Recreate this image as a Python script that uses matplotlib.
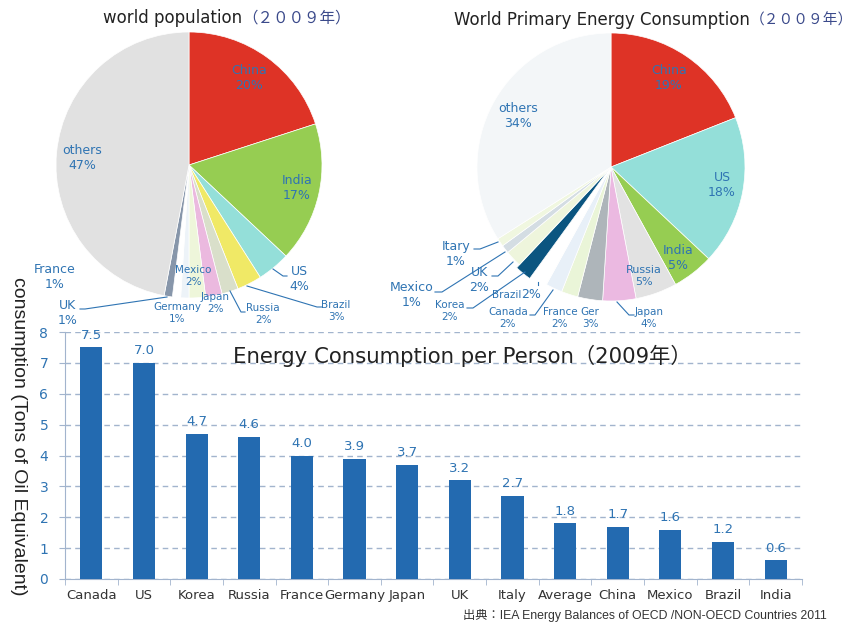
import matplotlib.pyplot as plt
import numpy as np

W, H = 859, 624

# world population 2009 (%)
pop_labels = ["China", "India", "US", "Brazil", "Russia", "Japan", "Mexico",
              "Germany", "France", "UK", "others"]
pop_share = [20, 17, 4, 3, 2, 2, 2, 1, 1, 1, 47]

# world primary energy consumption 2009 (%)
energy_labels = ["China", "US", "India", "Russia", "Japan", "Ger", "France",
                 "Canada", "Brazil", "Korea", "UK", "Mexico", "Itary", "others"]
energy_share = [19, 18, 5, 5, 4, 3, 2, 2, 2, 2, 2, 1, 1, 34]

# energy consumption per person 2009 (toe)
countries = ["Canada", "US", "Korea", "Russia", "France", "Germany", "Japan",
             "UK", "Italy", "Average", "China", "Mexico", "Brazil", "India"]
per_person = [7.5, 7.0, 4.7, 4.6, 4.0, 3.9, 3.7, 3.2, 2.7, 1.8, 1.7, 1.6, 1.2, 0.6]

pop_colors = ["#de3326", "#96cd52", "#94dfd9", "#f0e966", "#d9dfca", "#ebb9df",
              "#eef6da", "#edf3f8", "#ffffff", "#8796aa", "#e1e1e1"]
energy_colors = ["#de3326", "#94dfd9", "#96cd52", "#e2e2e2", "#ebb9e1", "#aeb5ba",
                 "#eaf5d8", "#e8f0f8", "#ffffff", "#0b5580", "#eef5dc", "#d4dde3",
                 "#f0f7e0", "#f3f6f8"]

BLUE = "#2f74b3"
GRID = "#a2b4cd"

fig = plt.figure(figsize=(W / 100, H / 100), dpi=100)
fig.patch.set_facecolor("white")

# ---- bar chart ----
axb = fig.add_axes([65 / W, (H - 579) / H, (802 - 65) / W, (579 - 332) / H])
axb.set_facecolor("none")
x = np.arange(len(countries))
bars = axb.bar(x, per_person, width=0.42, color="#236ab0", zorder=3)
for xi, v in zip(x, per_person):
    axb.annotate(f"{v:.1f}", (xi, v), xytext=(0, 4), textcoords="offset points",
                 ha="center", va="bottom", color=BLUE, fontsize=9.5)
axb.set_xlim(-0.5, len(countries) - 0.5)
axb.set_ylim(0, 8)
axb.set_yticks(range(9))
axb.yaxis.grid(True, ls=(0, (4, 3)), color=GRID, lw=1)
axb.set_axisbelow(True)
for s in ["top", "right"]:
    axb.spines[s].set_visible(False)
for s in ["left", "bottom"]:
    axb.spines[s].set_color(GRID)
axb.set_xticks(x)
axb.set_xticklabels(countries)
axb.set_xticks(np.arange(-0.5, len(countries), 1), minor=True)
axb.tick_params(axis="x", which="major", length=0, pad=7, labelsize=9.5,
                labelcolor="#333333")
axb.tick_params(axis="x", which="minor", length=4, color=GRID)
axb.tick_params(axis="y", length=4, color=GRID, labelcolor=BLUE, labelsize=10, pad=8)

# ---- overlay in pixel coordinates for pies and texts ----
ax = fig.add_axes([0, 0, 1, 1])
ax.set_facecolor("none")


def P(px, py):
    return (px, H - py)


ax.pie(pop_share, colors=pop_colors, startangle=90, counterclock=False,
       center=P(189, 165), radius=133, frame=True,
       wedgeprops=dict(edgecolor="white", linewidth=0.5))
explode = [0] * len(energy_share)
explode[energy_labels.index("Korea")] = 4
ax.pie(energy_share, colors=energy_colors, startangle=90, counterclock=False,
       center=P(611, 167), radius=134, frame=True, explode=explode,
       wedgeprops=dict(edgecolor="white", linewidth=0.5))
ax.set_xlim(0, W)
ax.set_ylim(0, H)
ax.axis("off")

# label positions (pixel) and font sizes
pop_pos = {"China": (249, 78, 9), "India": (297, 188, 9), "US": (299, 279, 9),
           "Brazil": (336, 311, 7.5), "Russia": (263, 314, 7.5),
           "Japan": (215, 303, 7.5), "Mexico": (193, 276, 7.5),
           "Germany": (177, 313, 7.5), "France": (55, 277, 9), "UK": (68, 313, 9),
           "others": (82, 158, 9)}
for lab, v in zip(pop_labels, pop_share):
    px, py, fs = pop_pos[lab]
    ax.text(*P(px, py), f"{lab}\n{v}%", ha="center", va="center", fontsize=fs,
            color=BLUE, linespacing=1.15)

energy_pos = {"China": (669, 78, 9), "US": (722, 185, 9), "India": (678, 258, 9),
              "Russia": (644, 276, 8), "Japan": (649, 318, 7.5),
              "Ger": (590, 318, 7.5), "France": (560, 318, 7.5),
              "Canada": (508, 318, 7.5), "Korea": (450, 311, 7.5),
              "UK": (479, 280, 9), "Mexico": (412, 295, 9), "Itary": (456, 254, 9),
              "others": (518, 116, 9)}
for lab, v in zip(energy_labels, energy_share):
    if lab == "Brazil":
        ax.text(*P(521, 295), lab, ha="right", va="center", fontsize=7.5, color=BLUE)
        ax.text(*P(521, 295), f"{v}%", ha="left", va="center", fontsize=9, color=BLUE)
        continue
    px, py, fs = energy_pos[lab]
    ax.text(*P(px, py), f"{lab}\n{v}%", ha="center", va="center", fontsize=fs,
            color=BLUE, linespacing=1.15)

# leader lines
leaders = [
    [(273, 269), (283, 276), (287, 276)],
    [(247, 286), (317, 307), (322, 307)],
    [(230, 291), (241, 312), (245, 312)],
    [(167, 297), (85, 309), (80, 309)],
    [(617, 302), (629, 315), (634, 315)],
    [(553, 290), (535, 315), (530, 315)],
    [(538, 282), (538, 285)],
    [(525, 272), (473, 308), (467, 308)],
    [(513, 262), (498, 276), (492, 276)],
    [(505, 252), (442, 292), (435, 292)],
    [(498, 242), (480, 249), (474, 249)],
]
for pts in leaders:
    xs = [p[0] for p in pts]
    ys = [H - p[1] for p in pts]
    ax.plot(xs, ys, color=BLUE, lw=0.8)

# titles
CJK = ["Noto Sans CJK JP", "DejaVu Sans"]
ax.text(*P(242, 18), "world population", ha="right", va="center", fontsize=12,
        color="#222222")
ax.text(*P(242, 18), "（２００９年）", ha="left", va="center", fontsize=11.2,
        color="#3b4a8b", family=CJK)
ax.text(*P(750, 20), "World Primary Energy Consumption", ha="right", va="center",
        fontsize=12, color="#222222")
ax.text(*P(750, 20), "（２００９年）", ha="left", va="center", fontsize=10.6,
        color="#3b4a8b", family=CJK)
ax.text(*P(233, 356), "Energy Consumption per Person（2009年）", ha="left",
        va="center", fontsize=15.3, color="#222222",
        family=["DejaVu Sans", "Noto Sans CJK JP"])

ax.text(*P(18, 436), "consumption (Tons of Oil Equivalent)", rotation=-90,
        ha="center", va="center", fontsize=14, color="#222222",
        family=["Liberation Sans", "DejaVu Sans"])
ax.text(*P(827, 615), "出典：IEA Energy Balances of OECD /NON-OECD Countries 2011",
        ha="right", va="center", fontsize=8.8, color="#333333",
        family=["Liberation Sans", "Noto Sans CJK JP"])

fig.savefig("out.png", dpi=100)
